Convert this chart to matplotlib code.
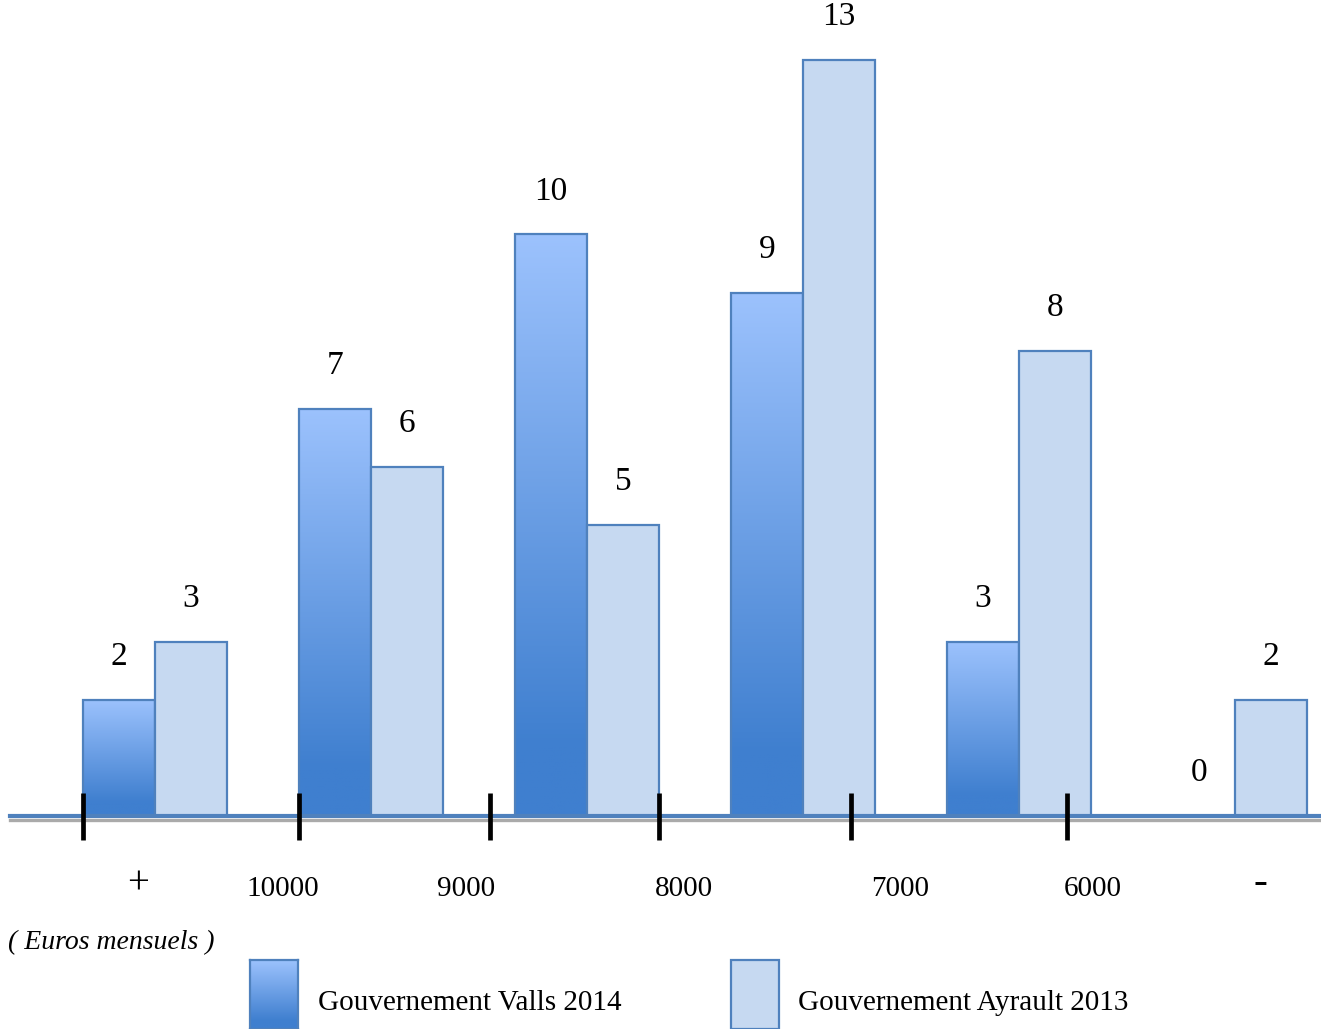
import numpy as np
import matplotlib.pyplot as plt
from matplotlib.patches import Rectangle
from matplotlib.colors import LinearSegmentedColormap

# --- DATA ---
series_names = ["Gouvernement Valls 2014", "Gouvernement Ayrault 2013"]
valls = [2, 7, 10, 9, 3, 0]
ayrault = [3, 6, 5, 13, 8, 2]
tick_labels = ["+", "10000", "9000", "8000", "7000", "6000", "-"]

# --- LAYOUT (group units: group spacing = 1, bar width = 1/3) ---
bar_w = 1 / 3
mark_pos = [-0.333, 0.667, 1.551, 2.333, 3.222, 4.222]
label_pos = [-0.08, 0.59, 1.44, 2.45, 3.45, 4.34, 5.12]

edge = "#4f81bd"
flat = "#c6d9f1"
grad = LinearSegmentedColormap.from_list(
    "valls", [(0, "#3f7fcf"), (0.12, "#3f7fcf"), (1, "#9cc2fd")])

plt.rcParams["font.family"] = ["Liberation Serif", "DejaVu Serif"]

fig = plt.figure(figsize=(13.21, 10.29), dpi=100)
ax = fig.add_axes([0, 0.207, 1, 0.793])
for s in ax.spines.values():
    s.set_visible(False)
ax.set_yticks([])

x = np.arange(len(valls))
gradient = np.linspace(0, 1, 256).reshape(-1, 1)

bars_v = ax.bar(x - bar_w / 2, valls, bar_w, color="none", edgecolor=edge, linewidth=1.6, zorder=3)
bars_a = ax.bar(x + bar_w / 2, ayrault, bar_w, color=flat, edgecolor=edge, linewidth=1.6, zorder=3)

for b in bars_v:
    if b.get_height() <= 0:
        continue
    x0, w, h = b.get_x(), b.get_width(), b.get_height()
    im = ax.imshow(gradient, cmap=grad, aspect="auto", origin="lower",
                   extent=(x0, x0 + w, 0, h), zorder=2)
    im.set_clip_path(b)

ax.set_xlim(-155 / 216, 1166 / 216)
ax.set_ylim(0, 816 / 58.15)

for bars, vals in ((bars_v, valls), (bars_a, ayrault)):
    for b, v in zip(bars, vals):
        ax.annotate(str(v), (b.get_x() + b.get_width() / 2, v), xytext=(0, 31),
                    textcoords="offset points", ha="center", va="center", fontsize=24)

# baseline: blue rule with grey shadow underneath
ax.axhline(0, xmin=10 / 1321, color=edge, linewidth=3, zorder=4, clip_on=False)
ax.axhline(-0.075, xmin=10 / 1321, color="#aaaaaa", linewidth=2.4, zorder=1, clip_on=False)
ax.vlines(mark_pos, -0.41, 0.40, color="black", linewidth=3.4, zorder=5, clip_on=False)

ax.set_xticks(label_pos)
ax.set_xticklabels(tick_labels, fontsize=21)
ax.tick_params(axis="x", length=0, pad=43)
for t in ax.get_xticklabels():
    if t.get_text() == "+":
        t.set_fontsize(28)
        t.set_y(0.012)
    elif t.get_text() == "-":
        t.set_fontsize(30)
        t.set_y(0.015)

fig.text(8 / 1321, 1 - 943 / 1029, "( Euros mensuels )", style="italic",
         fontsize=20, va="center", ha="left")

# legend
sw_y = 0
sw_h = 69 / 1029
lax = fig.add_axes([250 / 1321, sw_y, 48 / 1321, sw_h])
lax.imshow(gradient, cmap=grad, aspect="auto", origin="lower", extent=(0, 1, 0, 1))
lax.set_xticks([])
lax.set_yticks([])
for s in lax.spines.values():
    s.set_color(edge)
    s.set_linewidth(1.6)
fig.patches.append(Rectangle((731 / 1321, sw_y), 48 / 1321, sw_h, transform=fig.transFigure,
                             facecolor=flat, edgecolor=edge, linewidth=1.6))
fig.text(318 / 1321, 1 - 1003 / 1029, series_names[0], fontsize=21, va="center", ha="left")
fig.text(798 / 1321, 1 - 1003 / 1029, series_names[1], fontsize=21, va="center", ha="left")

fig.savefig("out.png", dpi=100)
